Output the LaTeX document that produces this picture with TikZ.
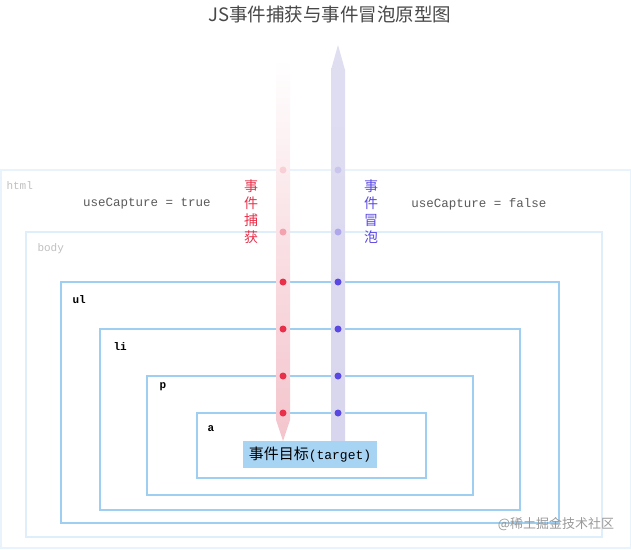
\documentclass[tikz,border=0pt]{standalone}
\usepackage{fontspec}
\setmainfont{Noto Sans CJK SC}
\setmonofont{Liberation Mono}
\usepackage{tikz}
\usetikzlibrary{positioning}
\definecolor{boxblue}{RGB}{158,206,240}
\definecolor{paleblue}{RGB}{222,238,250}
\definecolor{targetfill}{RGB}{168,212,244}
\definecolor{capred}{RGB}{232,48,74}
\definecolor{caparrow}{RGB}{244,196,204}
\definecolor{bubpurple}{RGB}{90,72,226}
\definecolor{bubarrow}{RGB}{216,214,238}
\definecolor{labelgrey}{RGB}{90,90,90}

\begin{document}
\begin{tikzpicture}[x=1pt,y=-1pt,
	layer/.style={draw=boxblue,line width=1.8pt},
	outerlayer/.style={draw=paleblue,line width=1.5pt},
	tagname/.style={anchor=west,font=\ttfamily\bfseries\fontsize{11}{11}\selectfont},
	outertag/.style={anchor=west,text=black!25,font=\ttfamily\fontsize{11}{11}\selectfont},
	flowtext/.style={align=center,font=\fontsize{14}{17}\selectfont},
	capdot/.style={fill=capred},
	bubdot/.style={fill=bubpurple}]
	\useasboundingbox (0,0) rectangle (631,549);
	\node[text=black!72,font=\fontsize{18.5}{18.5}\selectfont] (title) at (330,14) {JS事件捕获与事件冒泡原型图};
	% nested element boxes
	\draw[outerlayer,draw=paleblue!70] (0.75,170) rectangle (630.25,548);
	\draw[outerlayer] (26,232) rectangle (602,537);
	\draw[layer] (61,282) rectangle (559,523);
	\draw[layer] (100,329) rectangle (520,510);
	\draw[layer] (147,376) rectangle (473,495);
	\draw[layer] (197,413) rectangle (426,478);
	\node[outertag] (html) at (3,186) {html};
	\node[outertag] (body) at (34,249) {body};
	\node[tagname] (ul) at (69,300) {ul};
	\node[tagname] (li) at (110,347) {li};
	\node[tagname] (p) at (156,387) {p};
	\node[tagname] (a) at (204,429) {a};
	\node[text=labelgrey,font=\ttfamily\fontsize{12.5}{12.5}\selectfont] (capTrue) at (147,204) {useCapture = true};
	\node[text=labelgrey,font=\ttfamily\fontsize{12.5}{12.5}\selectfont] (capFalse) at (479,204) {useCapture = false};
	% capture and bubble arrows
	\shade[top color=white,bottom color=caparrow,middle color=caparrow!55] (276,60) -- (290,60) -- (290,420) -- (283,441) -- (276,420) -- cycle;
	\shade[top color=bubarrow!80,bottom color=bubarrow] (331,441) -- (331,70) -- (338,45) -- (345,70) -- (345,441) -- cycle;
	\node[flowtext,text=capred] (capture) at (251,212) {事\\件\\捕\\获};
	\node[flowtext,text=bubpurple] (bubble) at (371,212) {事\\件\\冒\\泡};
	\foreach \y/\op in {170/0.15,232/0.35,282/1,329/1,376/1,413/1}{
		\fill[capdot,opacity=\op] (283,\y) circle (3.5pt);
		\fill[bubdot,opacity=\op] (338,\y) circle (3.5pt);
	}
	\node[fill=targetfill,inner sep=0pt,minimum width=134pt,minimum height=27pt,font=\fontsize{15}{15}\selectfont] (target) at (310,454.5) {事件目标\texttt{\fontsize{13}{13}\selectfont(target)}};
	\node[text=black!40,font=\fontsize{13}{13}\selectfont] (mark) at (556,524) {@稀土掘金技术社区};
\end{tikzpicture}
\end{document}
